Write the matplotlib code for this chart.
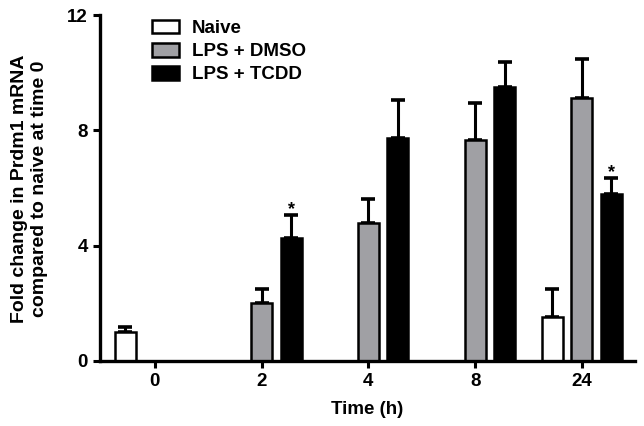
import numpy as np
import matplotlib
matplotlib.use("Agg")
import matplotlib.pyplot as plt

plt.rcParams['font.family'] = ['Liberation Sans', 'DejaVu Sans']
plt.rcParams['font.weight'] = 'bold'

time_labels = ["0", "2", "4", "8", "24"]
series_names = ["Naive", "LPS + DMSO", "LPS + TCDD"]
naive = [1.0, np.nan, np.nan, np.nan, 1.52]
naive_err = [0.17, np.nan, np.nan, np.nan, 0.99]
dmso = [np.nan, 2.0, 4.78, 7.67, 9.12]
dmso_err = [np.nan, 0.49, 0.85, 1.28, 1.37]
tcdd = [np.nan, 4.28, 7.75, 9.49, 5.79]
tcdd_err = [np.nan, 0.79, 1.31, 0.87, 0.55]
significant_tcdd = [False, True, False, False, True]

colors = ["white", "#a0a0a4", "black"]

fig = plt.figure(figsize=(6.44, 4.26), dpi=100)
ax = fig.add_axes([0.155, 0.1526, 0.831, 0.812])

x = np.arange(len(time_labels))
width = 0.196
offsets = [-0.276, 0.0, 0.276]
data = [(naive, naive_err), (dmso, dmso_err), (tcdd, tcdd_err)]

for (vals, errs), off, col, name in zip(data, offsets, colors, series_names):
    vals = np.array(vals, dtype=float)
    errs = np.array(errs, dtype=float)
    ax.bar(x + off, vals, width=width, color=col, edgecolor="black",
           linewidth=1.8, label=name, zorder=2)
    mask = ~np.isnan(vals)
    ax.errorbar((x + off)[mask], vals[mask],
                yerr=[np.zeros(mask.sum()), errs[mask]],
                fmt="none", ecolor="black", elinewidth=2.2, capsize=5,
                capthick=2.6, zorder=1)

tv = np.array(tcdd, dtype=float)
te = np.array(tcdd_err, dtype=float)
for i, sig in enumerate(significant_tcdd):
    if sig:
        ax.text(x[i] + offsets[2], tv[i] + te[i] - 0.1, "*", ha="center",
                va="bottom", fontsize=13, fontweight="bold")

ax.set_xlim(-0.515, 4.497)
ax.set_ylim(0, 12)
ax.set_yticks([0, 4, 8, 12])
ax.set_xticks(x)
ax.set_xticklabels(time_labels)
for s in ["top", "right"]:
    ax.spines[s].set_visible(False)
for s in ["left", "bottom"]:
    ax.spines[s].set_linewidth(2.4)
ax.tick_params(axis="both", width=2.2, length=5, labelsize=13.5, direction="out")
for lab in ax.get_xticklabels() + ax.get_yticklabels():
    lab.set_fontweight("bold")

ax.set_xlabel("Time (h)", fontsize=13.5, fontweight="bold", labelpad=8)
ax.set_ylabel("Fold change in Prdm1 mRNA\ncompared to naive at time 0",
              fontsize=14, fontweight="bold")
ax.yaxis.set_label_coords(-0.097, 0.497)

leg = ax.legend(loc="upper left", bbox_to_anchor=(0.097, 0.987), frameon=False,
                fontsize=13.5, handlelength=1.45, handleheight=0.75,
                labelspacing=0.31, handletextpad=0.7, borderpad=0,
                borderaxespad=0)
for t in leg.get_texts():
    t.set_fontweight("bold")

fig.savefig("out.png", dpi=100)
